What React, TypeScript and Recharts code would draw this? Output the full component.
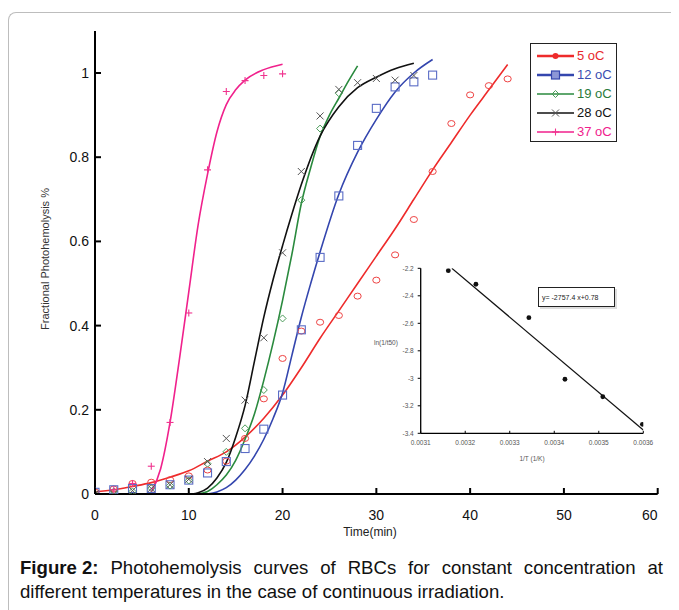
import React from "react";
import { ComposedChart, Line, Scatter, XAxis, YAxis } from "recharts";

// measured points (time in min, fractional photohemolysis)
const obsTime5 = [0, 2, 4, 6, 8, 10, 12, 14, 16, 18, 20, 22, 24, 26, 28, 30, 32, 34, 36, 38, 40, 42, 44];
const obs5 = [0.005, 0.012, 0.025, 0.028, 0.034, 0.043, 0.057, 0.078, 0.132, 0.226, 0.322, 0.387, 0.408, 0.424, 0.47, 0.508, 0.568, 0.652, 0.766, 0.88, 0.948, 0.97, 0.986];
const obsTime12 = [0, 2, 4, 6, 8, 10, 12, 14, 16, 18, 20, 22, 24, 26, 28, 30, 32, 34, 36];
const obs12 = [0.004, 0.01, 0.013, 0.013, 0.022, 0.033, 0.05, 0.077, 0.108, 0.154, 0.235, 0.39, 0.562, 0.708, 0.828, 0.916, 0.967, 0.979, 0.995];
const obsTime19 = [0, 2, 4, 6, 8, 10, 12, 14, 16, 18, 20, 22, 24, 26];
const obs19 = [0.0, 0.006, 0.006, 0.014, 0.02, 0.032, 0.072, 0.1, 0.156, 0.247, 0.417, 0.698, 0.868, 0.952];
const obsTime28 = [0, 2, 4, 6, 8, 10, 12, 14, 16, 18, 20, 22, 24, 26, 28, 30, 32, 34];
const obs28 = [0.0, 0.0, 0.008, 0.013, 0.022, 0.035, 0.077, 0.132, 0.223, 0.371, 0.573, 0.766, 0.898, 0.961, 0.977, 0.987, 0.983, 0.994];
const obsTime37 = [0, 2, 4, 6, 8, 10, 12, 14, 16, 18, 20];
const obs37 = [0.0, 0.01, 0.025, 0.066, 0.17, 0.43, 0.77, 0.956, 0.982, 0.994, 0.998];

// fitted curves
const fitTime5 = [0, 2, 4, 6, 8, 10, 12, 14, 16, 18, 20, 22, 24, 26, 28, 30, 32, 34, 36, 38, 40, 42, 44];
const fit5 = [0.005, 0.01, 0.018, 0.027, 0.04, 0.055, 0.078, 0.1, 0.135, 0.18, 0.235, 0.3, 0.37, 0.435, 0.5, 0.565, 0.63, 0.7, 0.77, 0.835, 0.9, 0.96, 1.02];
const fitTime12 = [12, 13, 14, 15, 16, 17, 18, 19, 20, 21, 22, 23, 24, 26, 28, 30, 32, 34, 36];
const fit12 = [0, 0.005, 0.015, 0.033, 0.058, 0.09, 0.13, 0.18, 0.24, 0.33, 0.42, 0.5, 0.575, 0.712, 0.812, 0.89, 0.955, 1.0, 1.032];
const fitTime19 = [11, 12, 13, 14, 15, 16, 17, 18, 19, 20, 21, 22, 23, 24, 25, 26, 27, 28];
const fit19 = [0, 0.006, 0.022, 0.045, 0.08, 0.13, 0.19, 0.27, 0.36, 0.46, 0.57, 0.69, 0.775, 0.849, 0.9, 0.94, 0.98, 1.017];
const fitTime28 = [10.3, 11, 12, 13, 14, 15, 16, 17, 18, 19, 20, 21, 22, 24, 26, 28, 30, 32, 34];
const fit28 = [0, 0.003, 0.014, 0.038, 0.075, 0.135, 0.21, 0.315, 0.42, 0.51, 0.59, 0.665, 0.735, 0.85, 0.92, 0.965, 0.99, 1.01, 1.023];
const fitTime37 = [5.9, 7, 8, 9, 10, 11, 12, 13, 14, 15, 16, 18, 20];
const fit37 = [0, 0.06, 0.17, 0.32, 0.48, 0.64, 0.76, 0.86, 0.925, 0.96, 0.983, 1.008, 1.021];

const xTicks = [0, 10, 20, 30, 40, 50, 60];
const yTicks = [0, 0.2, 0.4, 0.6, 0.8, 1];

// inset: Arrhenius plot
const invT = [0.003162, 0.003224, 0.003343, 0.003424, 0.003509, 0.003598];
const lnInvT50 = [-2.217, -2.316, -2.559, -3.007, -3.134, -3.335];
const fitInvT = [0.00317, 0.0036];
const fitLn = [-2.2, -3.376];
const insetXTicks = [0.0031, 0.0032, 0.0033, 0.0034, 0.0035, 0.0036];
const insetYTicks = [-3.4, -3.2, -3, -2.8, -2.6, -2.4, -2.2];

const zip = (xs: number[], ys: number[]) => xs.map((x, i) => ({ x, y: ys[i] }));

const FONT = "'Liberation Sans', Arial, sans-serif";

const OpenCircle = ({ cx, cy, color }: any) => (
  <ellipse cx={cx} cy={cy} rx={3.6} ry={3} fill="none" stroke={color} strokeWidth={1} />
);
const OpenSquare = ({ cx, cy, color }: any) => (
  <rect x={cx - 4} y={cy - 4} width={8} height={8} fill="none" stroke={color} strokeWidth={1.1} />
);
const OpenDiamond = ({ cx, cy, color }: any) => (
  <polygon points={`${cx},${cy - 3.5} ${cx + 3.5},${cy} ${cx},${cy + 3.5} ${cx - 3.5},${cy}`} fill="none" stroke={color} strokeWidth={1} />
);
const Cross = ({ cx, cy, color }: any) => (
  <g stroke={color} strokeWidth={1}>
    <line x1={cx - 3.5} y1={cy - 3.5} x2={cx + 3.5} y2={cy + 3.5} />
    <line x1={cx - 3.5} y1={cy + 3.5} x2={cx + 3.5} y2={cy - 3.5} />
  </g>
);
const Plus = ({ cx, cy, color }: any) => (
  <g stroke={color} strokeWidth={1.1}>
    <line x1={cx - 3.5} y1={cy} x2={cx + 3.5} y2={cy} />
    <line x1={cx} y1={cy - 3.5} x2={cx} y2={cy + 3.5} />
  </g>
);

const series = [
  { name: "5 oC", line: "#ee2b2b", mark: "#ee4444", text: "#e8282e", Marker: OpenCircle, obsX: obsTime5, obsY: obs5, fitX: fitTime5, fitY: fit5 },
  { name: "12 oC", line: "#3446ae", mark: "#5a6cc6", text: "#3a4cb0", Marker: OpenSquare, obsX: obsTime12, obsY: obs12, fitX: fitTime12, fitY: fit12 },
  { name: "19 oC", line: "#2a8a3e", mark: "#4c9c5a", text: "#2a7a3a", Marker: OpenDiamond, obsX: obsTime19, obsY: obs19, fitX: fitTime19, fitY: fit19 },
  { name: "28 oC", line: "#111111", mark: "#555555", text: "#111111", Marker: Cross, obsX: obsTime28, obsY: obs28, fitX: fitTime28, fitY: fit28 },
  { name: "37 oC", line: "#f0218c", mark: "#f0348f", text: "#f0208c", Marker: Plus, obsX: obsTime37, obsY: obs37, fitX: fitTime37, fitY: fit37 },
];

const MainXTick = ({ x, y, payload }: any) => (
  <g>
    <line x1={x} x2={x} y1={y} y2={y - 6} stroke="#000" strokeWidth={2} />
    <text x={payload.value === 60 ? x - 8 : x} y={y + 26} textAnchor="middle" fontSize={14} fontFamily={FONT} fill="#111">{payload.value}</text>
  </g>
);
const MainYTick = ({ x, y, payload }: any) => (
  <g>
    <line x1={x} x2={x + 6} y1={y} y2={y} stroke="#000" strokeWidth={2} />
    <text x={x - 6} y={y + 5} textAnchor="end" fontSize={14} fontFamily={FONT} fill="#111">{payload.value}</text>
  </g>
);
const InsetXTick = ({ x, y, payload }: any) => (
  <g>
    <line x1={x} x2={x} y1={y} y2={y - 2.5} stroke="#000" strokeWidth={1} />
    <text x={x} y={y + 12} textAnchor="middle" fontSize={6.5} fontFamily={FONT} fill="#555">{payload.value.toFixed(4)}</text>
  </g>
);
const InsetYTick = ({ x, y, payload }: any) => (
  <g>
    <line x1={x} x2={x - 3} y1={y} y2={y} stroke="#000" strokeWidth={1} />
    <text x={x - 7} y={y + 2.3} textAnchor="end" fontSize={6.5} fontFamily={FONT} fill="#555">{payload.value}</text>
  </g>
);

const LegendIcon = ({ s }: any) => {
  const M = s.Marker;
  return (
    <svg width={37} height={12} style={{ display: "block" }}>
      <line x1={0} x2={37} y1={6} y2={6} stroke={s.line} strokeWidth={s.name === "5 oC" || s.name === "12 oC" ? 2.5 : 1.5} />
      {s.name === "5 oC" ? (
        <circle cx={18.5} cy={6} r={3} fill={s.line} />
      ) : s.name === "12 oC" ? (
        <rect x={14.5} y={2} width={8} height={8} fill="#8c96d6" stroke={s.line} strokeWidth={1.2} />
      ) : (
        <M cx={18.5} cy={6} color={s.mark} />
      )}
    </svg>
  );
};

export default function App() {
  return (
    <div style={{ position: "relative", width: 671, height: 602, overflow: "hidden", fontFamily: FONT }}>
      <div
        style={{
          position: "absolute", left: 0, top: 4, width: 680, height: 620,
          borderTop: "1.5px solid #bdbdbd", borderLeft: "1.5px solid #bdbdbd", borderTopLeftRadius: 8,
        }}
      />
      <div style={{ position: "absolute", left: 0, top: 0 }}>
        <ComposedChart width={665} height={560} margin={{ top: 22.9, right: 15.3, left: 47, bottom: 44 }}>
          <XAxis
            dataKey="x" type="number" domain={[0, 60]} ticks={xTicks} allowDataOverflow
            axisLine={{ stroke: "#000", strokeWidth: 2 }} tickLine={false} tickSize={0} tickMargin={0}
            tick={<MainXTick />} height={30} interval={0}
          />
          <YAxis
            dataKey="y" type="number" domain={[0, 1.1]} ticks={yTicks} allowDataOverflow
            axisLine={{ stroke: "#000", strokeWidth: 2 }} tickLine={false} tickSize={0} tickMargin={0}
            tick={<MainYTick />} width={40} interval={0}
          />
          {series.map((s) => (
            <Line
              key={"fit" + s.name} data={zip(s.fitX, s.fitY)} dataKey="y" type="monotone"
              stroke={s.line} strokeWidth={1.6} dot={false} activeDot={false} isAnimationActive={false}
            />
          ))}
          {series.map((s) => (
            <Scatter
              key={"obs" + s.name} data={zip(s.obsX, s.obsY)} dataKey="y" isAnimationActive={false}
              shape={(p: any) => <s.Marker cx={p.cx} cy={p.cy} color={s.mark} />}
            />
          ))}
        </ComposedChart>
      </div>

      {/* y axis title */}
      <div style={{ position: "absolute", left: 37, top: 250.5, width: 0, height: 0 }}>
        <div style={{ position: "absolute", transform: "translate(-50%, -50%) rotate(-90deg)", whiteSpace: "nowrap", fontSize: 11, color: "#333" }}>
          Fractional Photohemolysis %
        </div>
      </div>
      {/* x axis title */}
      <div style={{ position: "absolute", left: 362, top: 524, transform: "translate(-50%, -50%)", fontSize: 12, color: "#222", whiteSpace: "nowrap" }}>
        Time(min)
      </div>

      {/* legend */}
      <div style={{ position: "absolute", left: 522, top: 34.5, width: 87, height: 99, border: "1.5px solid #222", boxSizing: "border-box", background: "#fff" }}>
        {series.map((s, i) => (
          <div key={s.name} style={{ position: "absolute", left: 6, top: 5 + i * 19, display: "flex", alignItems: "center", height: 14 }}>
            <LegendIcon s={s} />
            <span style={{ marginLeft: 3, fontSize: 13, color: s.text, whiteSpace: "nowrap" }}>{s.name}</span>
          </div>
        ))}
      </div>

      {/* inset */}
      <div style={{ position: "absolute", left: 352, top: 247 }}>
        <ComposedChart width={300} height={220} margin={{ top: 13.3, right: 16.7, left: 20.7, bottom: 21.7 }}>
          <XAxis
            dataKey="x" type="number" domain={[0.0031, 0.0036]} ticks={insetXTicks} allowDataOverflow
            axisLine={{ stroke: "#000", strokeWidth: 1.3 }} tickLine={false} tickSize={0} tickMargin={0}
            tick={<InsetXTick />} height={20} interval={0}
          />
          <YAxis
            dataKey="y" type="number" domain={[-3.4, -2.2]} ticks={insetYTicks} allowDataOverflow
            axisLine={{ stroke: "#000", strokeWidth: 1.3 }} tickLine={false} tickSize={0} tickMargin={0}
            tick={<InsetYTick />} width={40} interval={0}
          />
          <Line data={zip(fitInvT, fitLn)} dataKey="y" type="linear" stroke="#111" strokeWidth={1.2} dot={false} activeDot={false} isAnimationActive={false} />
          <Scatter data={zip(invT, lnInvT50)} dataKey="y" fill="#111" isAnimationActive={false}
            shape={(p: any) => <circle cx={p.cx} cy={p.cy} r={2.4} fill="#111" />} />
        </ComposedChart>
      </div>
      <div style={{ position: "absolute", left: 366, top: 331, fontSize: 6.5, color: "#555", whiteSpace: "nowrap" }}>ln(1/t50)</div>
      <div style={{ position: "absolute", left: 524, top: 450, transform: "translate(-50%, -50%)", fontSize: 6.5, color: "#555", whiteSpace: "nowrap" }}>1/T (1/K)</div>
      <div
        style={{
          position: "absolute", left: 530, top: 279, width: 77, height: 20, boxSizing: "border-box",
          border: "1.5px solid #222", boxShadow: "2px 2px 0 #ddd", fontSize: 7, color: "#222",
          display: "flex", alignItems: "center", paddingLeft: 3, whiteSpace: "nowrap", background: "#fff",
        }}
      >
        y= -2757.4 x+0.78
      </div>

      {/* caption */}
      <div style={{ position: "absolute", left: 12, top: 548, width: 643, fontSize: 18.6, lineHeight: "24px", color: "#111" }}>
        <div style={{ textAlign: "justify", textAlignLast: "justify", whiteSpace: "nowrap", display: "flex", justifyContent: "space-between" }}>
          <b>Figure 2:</b>
          {"Photohemolysis curves of RBCs for constant concentration at".split(" ").map((w, i) => (
            <span key={i}>{w}</span>
          ))}
        </div>
        <div style={{ whiteSpace: "nowrap" }}>different temperatures in the case of continuous irradiation.</div>
      </div>
    </div>
  );
}
